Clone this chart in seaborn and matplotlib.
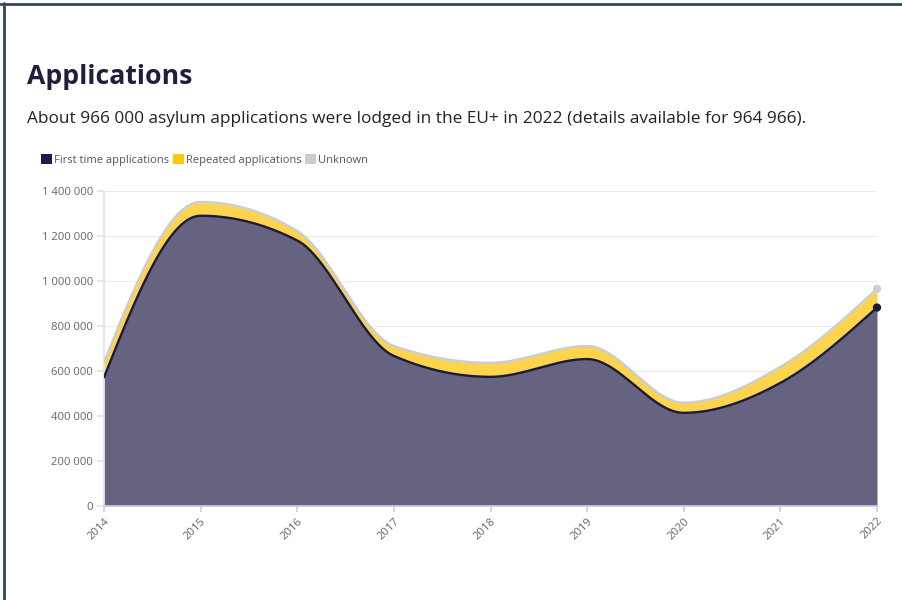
import numpy as np
import matplotlib
matplotlib.use("Agg")
import matplotlib.pyplot as plt
from matplotlib.patches import Patch
from matplotlib.lines import Line2D
from matplotlib.ticker import FuncFormatter
import seaborn as sns

# 数据 (读自参考图)
years = [2014, 2015, 2016, 2017, 2018, 2019, 2020, 2021, 2022]
first_time = [572000, 1290000, 1180000, 667000, 574000, 653000, 414000, 547000, 882000]
repeated = [62000, 58000, 40000, 42000, 60000, 57000, 44000, 70000, 80000]
unknown = [4000, 3000, 2000, 2000, 2000, 1000, 1000, 1000, 3000]
series_names = ["First time applications", "Repeated applications", "Unknown"]
y_ticks = [0, 200000, 400000, 600000, 800000, 1000000, 1200000, 1400000]

title = "Applications"
subtitle = ("About 966 000 asylum applications were lodged in the EU+ in 2022 "
            "(details available for 964 966).")

NAVY = "#1c1a3c"
NAVY_FILL = "#65637f"
YELLOW = "#fdd44c"
GREY = "#cdcdcd"


def monotone_curve(x, y, n=80):
    """d3 curveMonotoneX 風格的平滑曲線 (只用於繪製)"""
    x = np.asarray(x, float)
    y = np.asarray(y, float)
    h = np.diff(x)
    s = np.diff(y) / h
    t = np.zeros_like(y)
    for i in range(1, len(y) - 1):
        p = (s[i - 1] * h[i] + s[i] * h[i - 1]) / (h[i - 1] + h[i])
        t[i] = (np.sign(s[i - 1]) + np.sign(s[i])) * min(abs(s[i - 1]), abs(s[i]), 0.5 * abs(p))
    t[0] = (3 * s[0] - t[1]) / 2
    t[-1] = (3 * s[-1] - t[-2]) / 2
    xs, ys = [], []
    for i in range(len(x) - 1):
        u = np.linspace(0, 1, n, endpoint=(i == len(x) - 2))
        h00 = 2 * u**3 - 3 * u**2 + 1
        h10 = u**3 - 2 * u**2 + u
        h01 = -2 * u**3 + 3 * u**2
        h11 = u**3 - u**2
        xs.append(x[i] + u * h[i])
        ys.append(h00 * y[i] + h10 * h[i] * t[i] + h01 * y[i + 1] + h11 * h[i] * t[i + 1])
    return np.concatenate(xs), np.concatenate(ys)


sns.set_theme(style="white")
plt.rcParams['font.family'] = ['Open Sans', 'DejaVu Sans']

fig = plt.figure(figsize=(9.03, 6.0), dpi=100)
ax = fig.add_axes([104 / 903, 1 - 506 / 600, (877 - 104) / 903, (506 - 191) / 600])

c1 = np.array(first_time)
c2 = c1 + np.array(repeated)
c3 = c2 + np.array(unknown)

xs, y1 = monotone_curve(years, c1)
_, y2 = monotone_curve(years, c2)
_, y3 = monotone_curve(years, c3)

ax.fill_between(xs, y2, y3, color=GREY, lw=0, zorder=2)
ax.fill_between(xs, y1, y2, color=YELLOW, lw=0, zorder=2)
ax.fill_between(xs, 0, y1, color=NAVY_FILL, lw=0, zorder=2)
sns.lineplot(x=xs, y=y3, color=GREY, lw=1.8, ax=ax, zorder=3)
sns.lineplot(x=xs, y=y1, color=NAVY, lw=1.7, ax=ax, zorder=4)
sns.scatterplot(x=[years[-1]], y=[c3[-1]], color=GREY, s=36, edgecolor="none", ax=ax,
                zorder=5, clip_on=False)
sns.scatterplot(x=[years[-1]], y=[c1[-1]], color=NAVY, s=36, edgecolor="none", ax=ax,
                zorder=5, clip_on=False)

ax.set_xlim(years[0], years[-1])
ax.set_ylim(0, 1400000)
ax.set_yticks(y_ticks)
ax.yaxis.set_major_formatter(FuncFormatter(lambda v, p: f"{int(v):,}".replace(",", " ")))
ax.set_xticks(years)
ax.set_xticklabels([str(y) for y in years], rotation=45, ha="right", va="top",
                   rotation_mode="anchor")
ax.grid(axis="y", color="#ebebeb", lw=0.8, zorder=0)
ax.set_axisbelow(True)
for side in ["top", "right"]:
    ax.spines[side].set_visible(False)
ax.spines["left"].set_color("#e3e3e3")
ax.spines["bottom"].set_color("#d0d0dc")
ax.tick_params(axis="y", labelsize=8.1, labelcolor="#666666", left=True, length=5,
               color="#e3e3e3", pad=3)
ax.tick_params(axis="x", labelsize=8.1, labelcolor="#666666", bottom=True, length=4,
               color="#d0d0dc", pad=3)
ax.set_xlabel("")
ax.set_ylabel("")

fig.text(27 / 903, 1 - 77 / 600, title, fontsize=19.2, fontweight="bold", color="#1f1f3d",
         va="center", ha="left")
fig.text(27 / 903, 1 - 119 / 600, subtitle, fontsize=12.4, color="#222222",
         va="center", ha="left")

handles = [Patch(facecolor=c, edgecolor="none") for c in ["#1d1b4b", "#ffc60a", "#cccccc"]]
fig.legend(handles, series_names, loc="center left", bbox_to_anchor=(41 / 903, 1 - 160 / 600),
           ncol=3, frameon=False, fontsize=8, labelcolor="#555555",
           handlelength=1.0, handleheight=1.0, handletextpad=0.2, columnspacing=0.3,
           borderaxespad=0, borderpad=0)

# 外框
fig.add_artist(Line2D([0, 1], [1 - 3.5 / 600, 1 - 3.5 / 600], color="#34455e", lw=2))
fig.add_artist(Line2D([4.5 / 903, 4.5 / 903], [0, 1 - 3 / 600], color="#34455e", lw=2))

fig.savefig("out.png", dpi=100, facecolor="white")
